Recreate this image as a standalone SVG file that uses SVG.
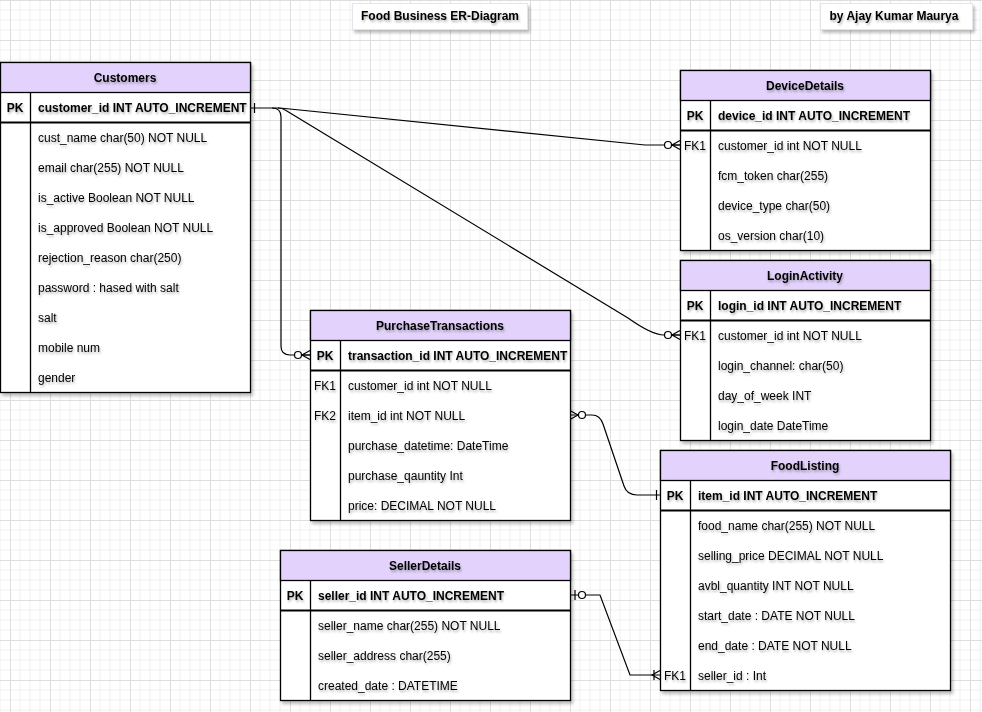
<svg xmlns="http://www.w3.org/2000/svg" width="982" height="712" viewBox="0 0 982 712">
<defs>
<pattern id="grid" x="10" y="0" width="40" height="40" patternUnits="userSpaceOnUse">
<path d="M10,0V40M20,0V40M30,0V40M0,10H40M0,20H40M0,30H40" stroke="#f0f0f0" stroke-width="1" fill="none"/>
<path d="M0.5,0V40M0,0.5H40" stroke="#dedede" stroke-width="1" fill="none"/>
</pattern>
<filter id="sh" x="-10%" y="-10%" width="130%" height="130%">
<feDropShadow dx="2" dy="3" stdDeviation="1.5" flood-color="#000" flood-opacity="0.25"/>
</filter>
<filter id="tsh" x="-10%" y="-30%" width="130%" height="180%">
<feDropShadow dx="1" dy="2" stdDeviation="1" flood-color="#000" flood-opacity="0.3"/>
</filter>
</defs>
<style>
text{font-family:"Liberation Sans",Arial,Helvetica,sans-serif;font-size:12px;fill:#000;filter:url(#tsh)}
.h{font-weight:bold;text-anchor:middle}
.b{font-weight:bold}
.c{text-anchor:middle}
.box{fill:#fff;stroke:#000;stroke-width:1.3;filter:url(#sh)}
.hd{fill:#e3d3fc;stroke:#000;stroke-width:1.3}
.ln{stroke:#000;stroke-width:1.3;fill:none}
.pk{stroke:#000;stroke-width:1.8;fill:none}
.e{stroke:#000;stroke-width:1.2;fill:none}
.o{stroke:#000;stroke-width:1.2;fill:#fff}
.tb{fill:#fff;stroke:#e4e4ec;stroke-width:1;filter:url(#sh)}
</style>
<rect width="982" height="712" fill="#fff"/>
<rect width="982" height="712" fill="url(#grid)"/>

<g id="title">
<rect class="tb" x="352.5" y="3.5" width="175" height="26"/>
<text class="h" x="440" y="20">Food Business ER-Diagram</text>
</g>
<g id="author">
<rect class="tb" x="820.5" y="3.5" width="152" height="26"/>
<text class="h" x="894" y="20">by Ajay Kumar Maurya</text>
</g>

<g id="connectors">
<!-- Customers -> DeviceDetails -->
<path class="e" d="M250,108 H280 L645,145 H680"/>
<path class="e" d="M254.5,103 V113"/>
<circle class="o" cx="668" cy="145" r="3.5"/>
<path class="e" d="M680,140.5 L672,145 L680,149.5 M672,145 H680"/>
<!-- Customers -> LoginActivity -->
<path class="e" d="M278,108 Q282,108 286,110.5 L628,318 Q652,335 664,335 H680"/>
<circle class="o" cx="668" cy="335" r="3.5"/>
<path class="e" d="M680,330.5 L672,335 L680,339.5 M672,335 H680"/>
<!-- Customers -> PurchaseTransactions -->
<path class="e" d="M272,108 Q281,108 281,117 V346 Q281,355 290,355 H310"/>
<circle class="o" cx="298" cy="355" r="3.5"/>
<path class="e" d="M310,350.5 L302,355 L310,359.5 M302,355 H310"/>
<!-- PurchaseTransactions -> FoodListing -->
<path class="e" d="M570,415 H592 Q600,415 603,424 L624,486 Q627,495 637,495 H660"/>
<path class="e" d="M570,410.5 L578,415 L570,419.5"/>
<circle class="o" cx="582" cy="415" r="3.5"/>
<path class="e" d="M656.5,490 V500"/>
<!-- SellerDetails -> FoodListing -->
<path class="e" d="M570,595 H600 L630,675 H660"/>
<path class="e" d="M575,590 V600"/>
<circle class="o" cx="582" cy="595" r="3.5"/>
<path class="e" d="M654,670 V680 M660,670.5 L652,675 L660,679.5"/>
</g>

<g id="Customers">
<rect class="box" x="0.5" y="62.5" width="250" height="330"/>
<rect class="hd" x="0.5" y="62.5" width="250" height="30"/>
<path class="pk" d="M0.5,122.5H250.5"/>
<path class="ln" d="M30.5,92.5V392.5"/>
<text class="h" x="125" y="82">Customers</text>
<text class="h" x="15" y="112">PK</text>
<text class="b" x="38" y="112">customer_id INT AUTO_INCREMENT</text>
<text x="38" y="142">cust_name char(50) NOT NULL</text>
<text x="38" y="172">email char(255) NOT NULL</text>
<text x="38" y="202">is_active Boolean NOT NULL</text>
<text x="38" y="232">is_approved Boolean NOT NULL</text>
<text x="38" y="262">rejection_reason char(250)</text>
<text x="38" y="292">password : hased with salt</text>
<text x="38" y="322">salt</text>
<text x="38" y="352">mobile num</text>
<text x="38" y="382">gender</text>
</g>

<g id="DeviceDetails">
<rect class="box" x="680.5" y="70.5" width="250" height="180"/>
<rect class="hd" x="680.5" y="70.5" width="250" height="30"/>
<path class="pk" d="M680.5,130.5H930.5"/>
<path class="ln" d="M710.5,100.5V250.5"/>
<text class="h" x="805" y="90">DeviceDetails</text>
<text class="h" x="695" y="120">PK</text>
<text class="b" x="718" y="120">device_id INT AUTO_INCREMENT</text>
<text class="c" x="695" y="150">FK1</text>
<text x="718" y="150">customer_id int NOT NULL</text>
<text x="718" y="180">fcm_token char(255)</text>
<text x="718" y="210">device_type char(50)</text>
<text x="718" y="240">os_version char(10)</text>
</g>

<g id="LoginActivity">
<rect class="box" x="680.5" y="260.5" width="250" height="180"/>
<rect class="hd" x="680.5" y="260.5" width="250" height="30"/>
<path class="pk" d="M680.5,320.5H930.5"/>
<path class="ln" d="M710.5,290.5V440.5"/>
<text class="h" x="805" y="280">LoginActivity</text>
<text class="h" x="695" y="310">PK</text>
<text class="b" x="718" y="310">login_id INT AUTO_INCREMENT</text>
<text class="c" x="695" y="340">FK1</text>
<text x="718" y="340">customer_id int NOT NULL</text>
<text x="718" y="370">login_channel: char(50)</text>
<text x="718" y="400">day_of_week INT</text>
<text x="718" y="430">login_date DateTime</text>
</g>

<g id="PurchaseTransactions">
<rect class="box" x="310.5" y="310.5" width="260" height="210"/>
<rect class="hd" x="310.5" y="310.5" width="260" height="30"/>
<path class="pk" d="M310.5,370.5H570.5"/>
<path class="ln" d="M340.5,340.5V520.5"/>
<text class="h" x="440" y="330">PurchaseTransactions</text>
<text class="h" x="325" y="360">PK</text>
<text class="b" x="348" y="360">transaction_id INT AUTO_INCREMENT</text>
<text class="c" x="325" y="390">FK1</text>
<text x="348" y="390">customer_id int NOT NULL</text>
<text class="c" x="325" y="420">FK2</text>
<text x="348" y="420">item_id int NOT NULL</text>
<text x="348" y="450">purchase_datetime: DateTime</text>
<text x="348" y="480">purchase_qauntity Int</text>
<text x="348" y="510">price: DECIMAL NOT NULL</text>
</g>

<g id="FoodListing">
<rect class="box" x="660.5" y="450.5" width="290" height="240"/>
<rect class="hd" x="660.5" y="450.5" width="290" height="30"/>
<path class="pk" d="M660.5,510.5H950.5"/>
<path class="ln" d="M690.5,480.5V690.5"/>
<text class="h" x="805" y="470">FoodListing</text>
<text class="h" x="675" y="500">PK</text>
<text class="b" x="698" y="500">item_id INT AUTO_INCREMENT</text>
<text x="698" y="530">food_name char(255) NOT NULL</text>
<text x="698" y="560">selling_price DECIMAL NOT NULL</text>
<text x="698" y="590">avbl_quantity INT NOT NULL</text>
<text x="698" y="620">start_date : DATE NOT NULL</text>
<text x="698" y="650">end_date : DATE NOT NULL</text>
<text class="c" x="675" y="680">FK1</text>
<text x="698" y="680">seller_id : Int</text>
</g>

<g id="SellerDetails">
<rect class="box" x="280.5" y="550.5" width="290" height="150"/>
<rect class="hd" x="280.5" y="550.5" width="290" height="30"/>
<path class="pk" d="M280.5,610.5H570.5"/>
<path class="ln" d="M310.5,580.5V700.5"/>
<text class="h" x="425" y="570">SellerDetails</text>
<text class="h" x="295" y="600">PK</text>
<text class="b" x="318" y="600">seller_id INT AUTO_INCREMENT</text>
<text x="318" y="630">seller_name char(255) NOT NULL</text>
<text x="318" y="660">seller_address char(255)</text>
<text x="318" y="690">created_date : DATETIME</text>
</g>
</svg>
